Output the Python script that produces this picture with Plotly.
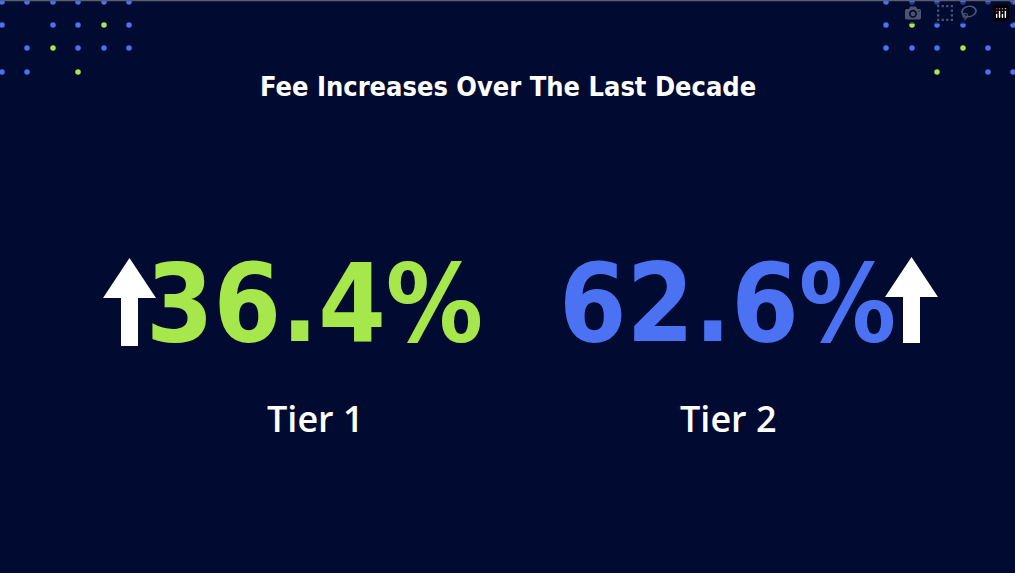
import plotly.graph_objects as go

# values
tiers = ["Tier 1", "Tier 2"]
increases = ["36.4%", "62.6%"]
tier_colors = ["#a6e84c", "#4a72f2"]
title = "Fee Increases Over The Last Decade"

# decorative dot grid (column index, row index, colour code) per corner
dot_cols_left = [2, 27, 53, 78, 104, 129]
dot_cols_right = [886, 912, 937, 963, 988, 1013]
dot_rows = [2, 25, 48, 72]
left_pattern = ["BBBBBB", "B.BBGB", ".BGBBB", "BB.G.."]
right_pattern = ["BBBBBB", "BGBB.B", "BBBGB.", "..G.BB"]

W, H = 1015, 573
fig = go.Figure()

def add_dots(cols, pattern):
    for c, kind in [("B", "#4a72f2"), ("G", "#a6e84c")]:
        xs, ys = [], []
        for r, row in enumerate(pattern):
            for i, ch in enumerate(row):
                if ch == c:
                    xs.append(cols[i])
                    ys.append(dot_rows[r])
        fig.add_trace(go.Scatter(x=xs, y=ys, mode="markers",
                                 marker=dict(size=5.5, color=kind),
                                 hoverinfo="skip", showlegend=False, cliponaxis=False))

add_dots(dot_cols_left, left_pattern)
add_dots(dot_cols_right, right_pattern)

def arrow(x0, top, bottom):
    # x0 = left edge of head, width 53
    p = (f"M{x0 + 26.5},{top} L{x0 + 53},{top + 40} L{x0 + 35},{top + 40} "
         f"L{x0 + 35},{bottom} L{x0 + 18},{bottom} L{x0 + 18},{top + 40} "
         f"L{x0},{top + 40} Z")
    fig.add_shape(type="path", path=p, xref="x", yref="y",
                  fillcolor="white", line=dict(width=0))

arrow(103, 258, 346)
arrow(885, 257, 343)

centers = [314, 727]
for cx, val, col, lab in zip(centers, increases, tier_colors, tiers):
    fig.add_annotation(x=cx, y=303, text=f"<b>{val}</b>", showarrow=False,
                       xref="x", yref="y",
                       font=dict(family="DejaVu Sans Condensed", size=108, color=col))
    fig.add_annotation(x=cx + 1, y=418, text=lab, showarrow=False,
                       xref="x", yref="y",
                       font=dict(family="Open Sans", size=36, color="white", weight=600))

fig.add_annotation(x=508, y=86, text=f"<b>{title}</b>", showarrow=False,
                   xref="x", yref="y",
                   font=dict(family="DejaVu Sans Condensed", size=27, color="white"))

fig.add_shape(type="line", x0=0, x1=W, y0=0.5, y1=0.5, xref="x", yref="y",
              line=dict(color="#5a5f70", width=1.5))

fig.update_layout(
    width=W, height=H, margin=dict(l=0, r=0, t=0, b=0),
    paper_bgcolor="#010a30", plot_bgcolor="#010a30",
    xaxis=dict(range=[0, W], visible=False, fixedrange=True),
    yaxis=dict(range=[H, 0], visible=False, fixedrange=True),
)

fig.write_html("out.html",
               post_script="document.body.style.margin='0';document.body.style.background='#010a30';")
